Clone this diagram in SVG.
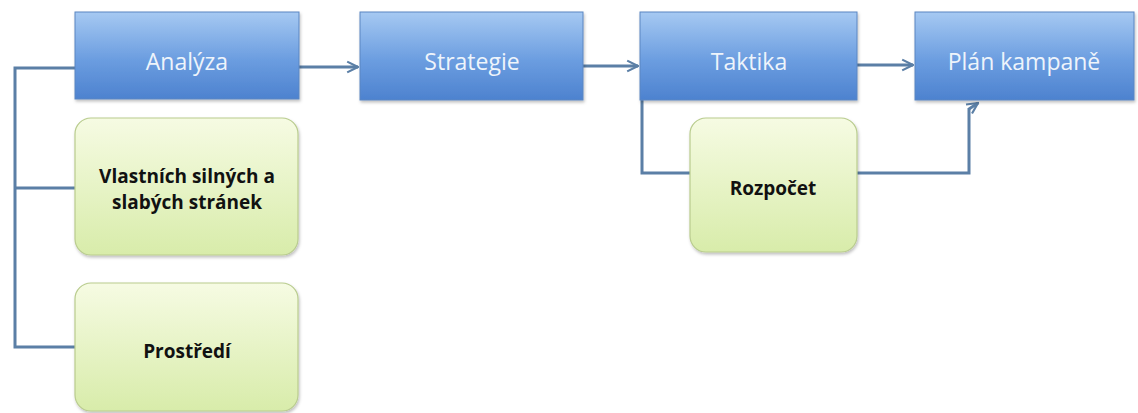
<svg xmlns="http://www.w3.org/2000/svg" width="1138" height="413" viewBox="0 0 1138 413">
<defs>
<linearGradient id="gBlue" x1="0" y1="0" x2="0" y2="1">
<stop offset="0" stop-color="#a6c9f2"/>
<stop offset="0.55" stop-color="#6b9de0"/>
<stop offset="1" stop-color="#4d82cf"/>
</linearGradient>
<linearGradient id="gGreen" x1="0" y1="0" x2="0" y2="1">
<stop offset="0" stop-color="#f6fbe3"/>
<stop offset="1" stop-color="#d8ecaa"/>
</linearGradient>
<filter id="sh" x="-10%" y="-10%" width="120%" height="130%">
<feDropShadow dx="1" dy="2" stdDeviation="1.5" flood-color="#000" flood-opacity="0.25"/>
</filter>
<marker id="arr" viewBox="0 0 10 10" refX="9" refY="5" markerWidth="4.5" markerHeight="4.5" orient="auto" markerUnits="strokeWidth">
<path d="M1,1 L9,5 L1,9" fill="none" stroke="#5b7fa6" stroke-width="1.6"/>
</marker>
</defs>
<style>
.blue{fill:url(#gBlue);stroke:#5a86c2;stroke-width:1;filter:url(#sh)}
.green{fill:url(#gGreen);stroke:#b9cc8e;stroke-width:1.2;filter:url(#sh)}
.bt{font-family:"Open Sans","Liberation Sans",sans-serif;font-size:23px;fill:#eef4fb;text-anchor:middle}
.gt{font-family:"Open Sans","Liberation Sans",sans-serif;font-size:19px;font-weight:bold;fill:#111;text-anchor:middle}
.c{fill:none;stroke:#5b7fa6;stroke-width:3}
</style>
<rect width="1138" height="413" fill="#ffffff"/>
<g id="connectors">
<path class="c" d="M75,68 H15 V347 H75"/>
<path class="c" d="M15,188 H75"/>
<path class="c" d="M299,67 H358" marker-end="url(#arr)"/>
<path class="c" d="M583,66 H638" marker-end="url(#arr)"/>
<path class="c" d="M857,65 H913" marker-end="url(#arr)"/>
<path class="c" d="M642,100 V173 H690"/>
<path class="c" d="M857,173 H969 V108"/>
<path class="c" d="M969,109 L978,103" marker-end="url(#arr)"/>
</g>
<g id="analyza"><rect class="blue" x="75" y="12" width="224" height="87"/><text class="bt" x="187" y="70">Analýza</text></g>
<g id="strategie"><rect class="blue" x="360" y="12" width="223" height="88"/><text class="bt" x="472" y="70">Strategie</text></g>
<g id="taktika"><rect class="blue" x="640" y="12" width="217" height="88"/><text class="bt" x="749" y="70">Taktika</text></g>
<g id="plan"><rect class="blue" x="915" y="12" width="219" height="88"/><text class="bt" x="1024" y="70">Plán kampaně</text></g>
<g id="vlastnich"><rect class="green" x="75" y="118" width="223" height="137" rx="16"/><text class="gt" x="187" y="183">Vlastních silných a</text><text class="gt" x="187" y="209">slabých stránek</text></g>
<g id="prostredi"><rect class="green" x="75" y="283" width="223" height="128" rx="16"/><text class="gt" x="187" y="358">Prostředí</text></g>
<g id="rozpocet"><rect class="green" x="690" y="118" width="167" height="134" rx="16"/><text class="gt" x="773" y="195">Rozpočet</text></g>
</svg>
